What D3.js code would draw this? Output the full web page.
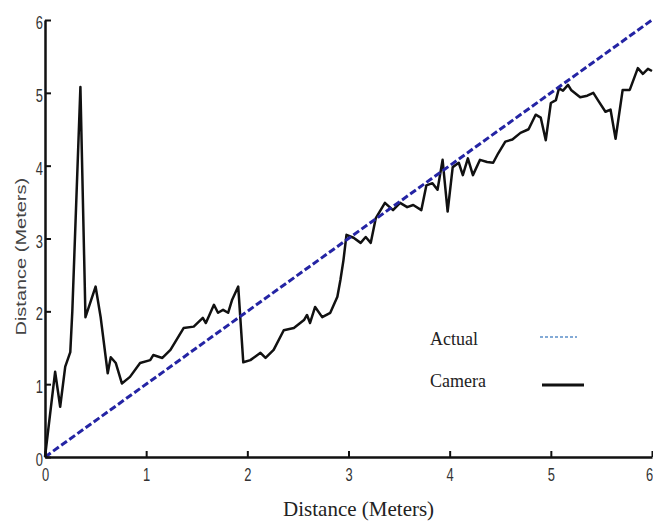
<!DOCTYPE html>
<html>
<head>
<meta charset="utf-8">
<script src="https://cdn.jsdelivr.net/npm/d3@7"></script>
<style>
  body { margin: 0; background: #fff; }
  svg { display: block; }
</style>
</head>
<body>
<div id="plotting-area"><svg></svg></div>
<script>
const margin = { top: 20, right: 1, bottom: 65, left: 45 }
const svgWidth = 653
const svgHeight = 522
const width = svgWidth - margin.left - margin.right
const height = svgHeight - margin.top - margin.bottom

// data (metres)
const actualX = [0, 6]
const actualY = [0, 6]

const cameraX = [0, 0.10, 0.15, 0.20, 0.25, 0.27, 0.35, 0.40, 0.50, 0.55, 0.62, 0.65, 0.70, 0.76, 0.84, 0.94,
    1.04, 1.07, 1.16, 1.24, 1.37, 1.47, 1.56, 1.59, 1.67, 1.71, 1.76, 1.81, 1.85, 1.91, 1.96,
    2.03, 2.08, 2.13, 2.18, 2.26, 2.36, 2.46, 2.56, 2.59, 2.62, 2.67, 2.74, 2.82, 2.89, 2.92, 2.95, 2.98,
    3.05, 3.12, 3.17, 3.22, 3.27, 3.36, 3.44, 3.51, 3.58, 3.64, 3.72, 3.77, 3.83, 3.88, 3.93, 3.98,
    4.03, 4.09, 4.13, 4.18, 4.23, 4.30, 4.37, 4.43, 4.48, 4.55, 4.62, 4.70, 4.78, 4.85, 4.90, 4.95, 5.00,
    5.05, 5.08, 5.12, 5.17, 5.20, 5.29, 5.36, 5.42, 5.47, 5.54, 5.59, 5.64, 5.71, 5.78, 5.86, 5.91, 5.96, 6.00]
const cameraY = [0, 1.17, 0.69, 1.24, 1.44, 2.00, 5.08, 1.92, 2.34, 1.92, 1.15, 1.37, 1.29, 1.01, 1.10, 1.29,
    1.33, 1.40, 1.36, 1.47, 1.77, 1.79, 1.91, 1.84, 2.09, 1.98, 2.02, 1.98, 2.16, 2.34, 1.30,
    1.33, 1.38, 1.43, 1.36, 1.47, 1.74, 1.77, 1.88, 1.95, 1.84, 2.06, 1.92, 1.98, 2.20, 2.43, 2.70, 3.05,
    3.01, 2.94, 3.02, 2.94, 3.28, 3.49, 3.39, 3.49, 3.43, 3.46, 3.39, 3.73, 3.76, 3.67, 4.08, 3.37,
    3.98, 4.04, 3.87, 4.10, 3.87, 4.08, 4.05, 4.04, 4.17, 4.33, 4.36, 4.45, 4.50, 4.70, 4.66, 4.35, 4.86,
    4.90, 5.06, 5.03, 5.11, 5.04, 4.94, 4.96, 5.00, 4.89, 4.74, 4.77, 4.37, 5.04, 5.04, 5.34, 5.26, 5.33, 5.30]

const xTicks = [0, 1, 2, 3, 4, 5, 6]
const yTicks = [0, 1, 2, 3, 4, 5, 6]

const legendNames = ['Actual', 'Camera']

const svg = d3.select('#plotting-area svg')
    .attr('width', svgWidth)
    .attr('height', svgHeight)

const g = svg.append('g')
    .attr('transform', `translate(${margin.left}, ${margin.top})`)

const x = d3.scaleLinear().domain([0, 6]).range([0, width])
const y = d3.scaleLinear().domain([0, 6]).range([height, 0])

const line = d3.line()
    .x(d => x(d[0]))
    .y(d => y(d[1]))

// camera trace
g.append('path')
    .datum(cameraX.map((d, i) => [d, cameraY[i]]))
    .attr('d', line)
    .attr('fill', 'none')
    .attr('stroke', '#111')
    .attr('stroke-width', 2.5)
    .attr('stroke-linejoin', 'round')

// actual (ideal) line
g.append('path')
    .datum(actualX.map((d, i) => [d, actualY[i]]))
    .attr('d', line)
    .attr('fill', 'none')
    .attr('stroke', '#2424a4')
    .attr('stroke-width', 3)
    .attr('stroke-dasharray', '7,3')

// axes, ticks pointing inward
const xAxis = g.append('g')
    .classed('x-axis', true)
    .attr('transform', `translate(0, ${height})`)
    .call(d3.axisBottom(x).tickValues(xTicks).tickFormat(d3.format('d'))
        .tickSizeInner(-6).tickSizeOuter(0).tickPadding(11))

const yAxis = g.append('g')
    .classed('y-axis', true)
    .call(d3.axisLeft(y).tickValues(yTicks).tickFormat(d3.format('d'))
        .tickSizeInner(-6).tickSizeOuter(0))

g.selectAll('.x-axis .domain, .y-axis .domain')
    .attr('stroke', '#111')
    .attr('stroke-width', 2.5)
g.selectAll('.tick line')
    .attr('stroke', '#111')
    .attr('stroke-width', 2)

// tick labels look horizontally squeezed in the reference
g.selectAll('.tick text')
    .attr('fill', '#333')
    .style('font-family', "'Liberation Sans', Arial, sans-serif")
    .style('font-size', '19px')

g.selectAll('.x-axis .tick text')
    .attr('transform', 'scale(0.68, 1)')
    .attr('text-anchor', d => d === 6 ? 'end' : 'middle')
    .attr('x', d => d === 6 ? 1 : 0)

g.selectAll('.y-axis .tick text')
    .attr('x', 0)
    .attr('dy', '0.45em')
    .attr('transform', 'translate(-2, 0) scale(0.68, 1)')

// axis titles
svg.append('text')
    .attr('x', margin.left + x(3.1))
    .attr('y', 516)
    .attr('text-anchor', 'middle')
    .style('font-family', "'Liberation Serif', 'Times New Roman', serif")
    .style('font-size', '21px')
    .attr('fill', '#222')
    .text('Distance (Meters)')

svg.append('text')
    .attr('transform', `translate(26, ${margin.top + y(2.75)}) rotate(-90) scale(1, 0.75)`)
    .attr('text-anchor', 'middle')
    .style('font-family', "'Liberation Sans', Arial, sans-serif")
    .style('font-size', '20px')
    .attr('fill', '#444')
    .text('Distance (Meters)')

// legend
const legend = svg.append('g')
    .attr('transform', 'translate(430, 345)')

legend.selectAll('text')
    .data(legendNames)
    .join('text')
    .attr('x', 0)
    .attr('y', (d, i) => i * 42)
    .style('font-family', "'Liberation Serif', 'Times New Roman', serif")
    .style('font-size', '18px')
    .attr('fill', '#222')
    .text(d => d)

legend.append('line')
    .attr('x1', 110).attr('x2', 147)
    .attr('y1', -8).attr('y2', -8)
    .attr('stroke', '#5b8fc9')
    .attr('stroke-width', 1.5)
    .attr('stroke-dasharray', '3,2')

legend.append('line')
    .attr('x1', 112).attr('x2', 154)
    .attr('y1', 40).attr('y2', 40)
    .attr('stroke', '#111')
    .attr('stroke-width', 3)
</script>
</body>
</html>
